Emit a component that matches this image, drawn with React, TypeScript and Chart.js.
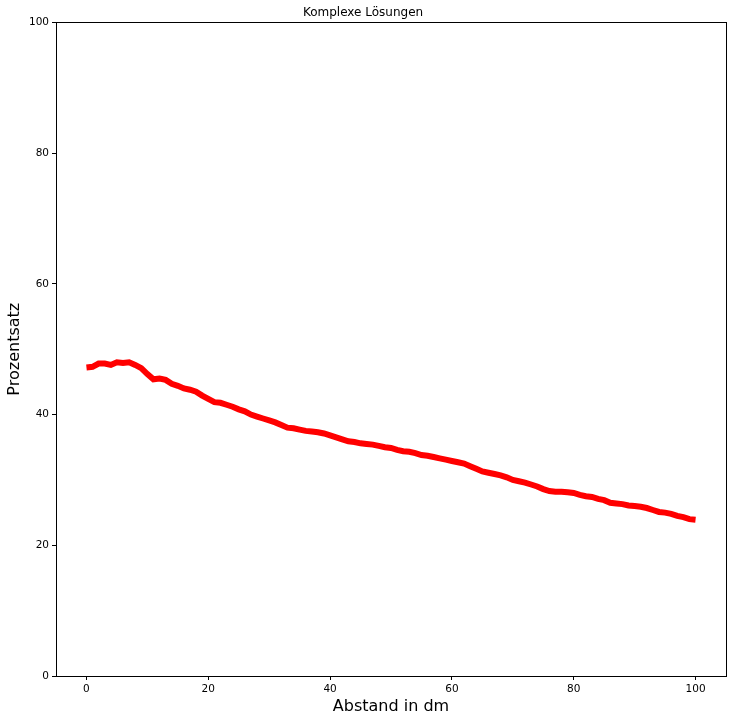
import React, { useEffect, useRef } from "react";
import { Chart, registerables } from "chart.js";

Chart.register(...registerables);

const TITLE = "Komplexe Lösungen";
const X_LABEL = "Abstand in dm";
const Y_LABEL = "Prozentsatz";

const distances: number[] = Array.from({ length: 101 }, (_, i) => i);

const percentages: number[] = [
  47.2, 47.3, 47.8, 47.8, 47.6, 48.0, 47.9, 48.0, 47.6, 47.1,
  46.2, 45.4, 45.5, 45.3, 44.7, 44.4, 44.0, 43.8, 43.5, 42.9,
  42.4, 41.9, 41.8, 41.5, 41.2, 40.8, 40.5, 40.0, 39.7, 39.4,
  39.1, 38.8, 38.4, 38.0, 37.9, 37.7, 37.5, 37.4, 37.3, 37.1,
  36.8, 36.5, 36.2, 35.9, 35.8, 35.6, 35.5, 35.4, 35.2, 35.0,
  34.9, 34.6, 34.4, 34.3, 34.1, 33.8, 33.7, 33.5, 33.3, 33.1,
  32.9, 32.7, 32.5, 32.1, 31.7, 31.3, 31.1, 30.9, 30.7, 30.4,
  30.0, 29.8, 29.6, 29.3, 29.0, 28.6, 28.3, 28.2, 28.2, 28.1,
  28.0, 27.7, 27.5, 27.4, 27.1, 26.9, 26.5, 26.4, 26.3, 26.1,
  26.0, 25.9, 25.7, 25.4, 25.1, 25.0, 24.8, 24.5, 24.3, 24.0,
  23.9,
];

const xTicks: number[] = [0, 20, 40, 60, 80, 100];
const yTicks: number[] = [0, 20, 40, 60, 80, 100];

const FONT = "'DejaVu Sans', sans-serif";

const framePlugin = {
  id: "frame",
  afterDraw(chart: any) {
    const { ctx, chartArea } = chart;
    ctx.save();
    ctx.strokeStyle = "#000";
    ctx.lineWidth = 1;
    ctx.strokeRect(
      Math.round(chartArea.left) + 0.5,
      Math.round(chartArea.top) + 0.5,
      Math.round(chartArea.right - chartArea.left),
      Math.round(chartArea.bottom - chartArea.top)
    );
    ctx.restore();
  },
};

export default function App() {
  const canvasRef = useRef<HTMLCanvasElement | null>(null);

  useEffect(() => {
    if (!canvasRef.current) return;
    const chart = new Chart(canvasRef.current, {
      type: "line",
      data: {
        datasets: [
          {
            data: distances.map((x, i) => ({ x, y: percentages[i] })),
            borderColor: "#ff0000",
            backgroundColor: "#ff0000",
            borderWidth: 6,
            pointRadius: 0,
            tension: 0,
            fill: false,
          },
        ],
      },
      plugins: [framePlugin],
      options: {
        animation: false,
        responsive: true,
        maintainAspectRatio: false,
        layout: { padding: { top: 0, right: 6, bottom: 0, left: 0 } },
        plugins: {
          legend: { display: false },
          tooltip: { enabled: false },
          title: {
            display: true,
            text: TITLE,
            color: "#000",
            font: { family: FONT, size: 12, weight: "normal", lineHeight: 1.2 },
            padding: { top: 6, bottom: 2 },
          },
        },
        scales: {
          x: {
            type: "linear",
            min: -5,
            max: 105,
            afterBuildTicks: (scale: any) => {
              scale.ticks = xTicks.map((v) => ({ value: v }));
            },
            afterFit: (scale: any) => {
              scale.height = 45;
            },
            grid: {
              drawOnChartArea: false,
              drawTicks: true,
              tickLength: 4,
              color: "#000",
            },
            border: { display: true, color: "#000" },
            ticks: {
              color: "#000",
              font: { family: FONT, size: 10.5 },
              padding: 3,
              maxRotation: 0,
            },
            title: {
              display: true,
              text: X_LABEL,
              color: "#000",
              font: { family: FONT, size: 16, lineHeight: 1.2 },
              padding: { top: 0, bottom: 5 },
            },
          },
          y: {
            type: "linear",
            min: 0,
            max: 100,
            afterBuildTicks: (scale: any) => {
              scale.ticks = yTicks.map((v) => ({ value: v }));
            },
            afterFit: (scale: any) => {
              scale.width = 56;
            },
            grid: {
              drawOnChartArea: false,
              drawTicks: true,
              tickLength: 4,
              color: "#000",
            },
            border: { display: true, color: "#000" },
            ticks: {
              color: "#000",
              font: { family: FONT, size: 10.5 },
              padding: 3,
            },
            title: {
              display: true,
              text: Y_LABEL,
              color: "#000",
              font: { family: FONT, size: 16, lineHeight: 1.2 },
              padding: { top: 5, bottom: 0 },
            },
          },
        },
      },
    });
    return () => chart.destroy();
  }, []);

  return (
    <div
      style={{
        position: "fixed",
        left: 0,
        top: 0,
        width: 732,
        height: 721,
        background: "#fff",
      }}
    >
      <canvas ref={canvasRef} />
    </div>
  );
}
